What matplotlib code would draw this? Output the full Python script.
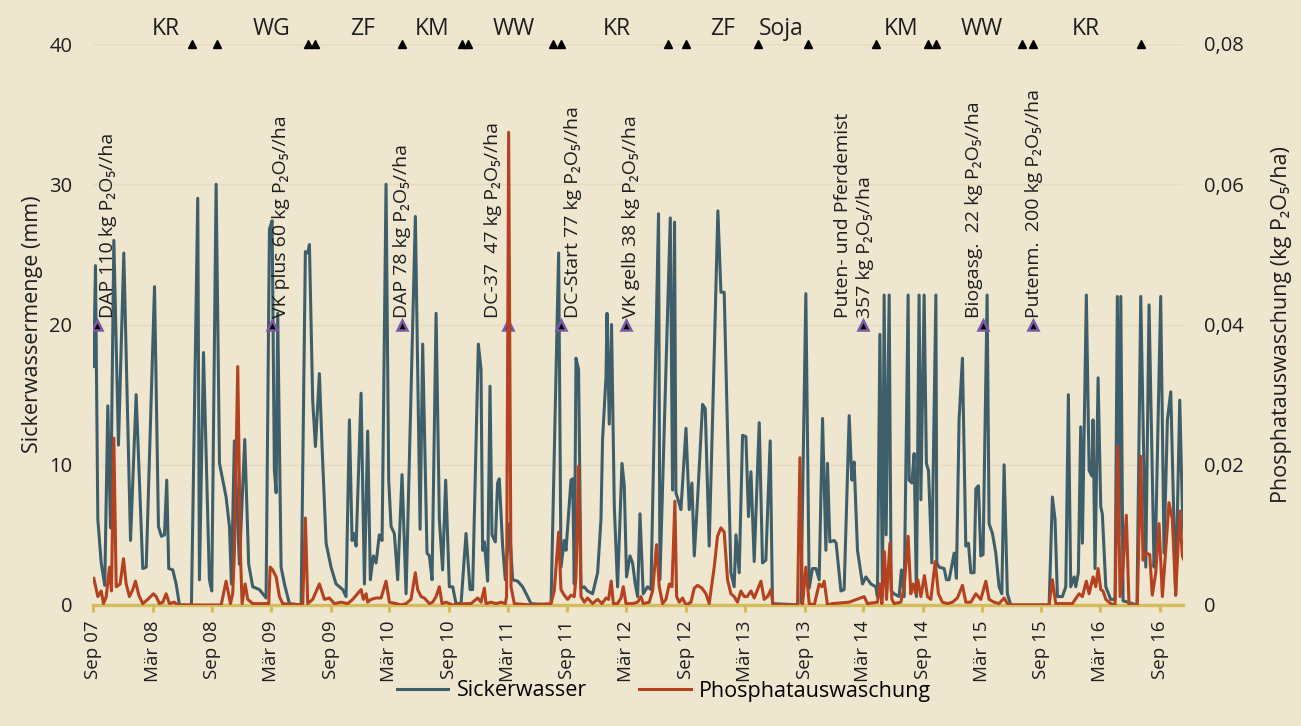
import numpy as np
import pandas as pd
import matplotlib
matplotlib.use("Agg")
import matplotlib.pyplot as plt
import matplotlib.transforms as mtrans
from matplotlib.lines import Line2D
from matplotlib.ticker import FuncFormatter

plt.rcParams['font.family'] = ['Open Sans', 'DejaVu Sans']

START = pd.Timestamp('2007-09-01')

# --- Sickerwasser (mm); time in months since Sep 2007 ---
sw_months = [0.03, 0.20, 0.44, 0.78, 1.14, 1.45, 1.72, 2.06, 2.53, 3.07, 3.75, 4.32, 4.99, 5.34,
             6.18, 6.58, 6.88, 7.19, 7.42, 7.62, 8.03, 8.37, 8.71, 9.92, 10.56, 10.73, 11.14,
             11.74, 11.98, 12.42, 12.76, 13.43, 13.77, 13.97, 14.27, 14.78, 15.32, 15.72, 16.13,
             16.81, 17.48, 17.82, 18.09, 18.32, 18.50, 18.66, 19.00, 19.34, 19.84, 21.03, 21.46,
             21.72, 21.87, 22.20, 22.48, 22.88, 23.15, 23.56, 24.06, 24.57, 25.24, 25.58, 25.92,
             26.19, 26.35, 26.60, 27.10, 27.44, 27.77, 28.04, 28.35, 28.62, 28.95, 29.23, 29.63,
             29.90, 30.14, 30.47, 30.81, 31.25, 31.66, 32.60, 33.08, 33.34, 33.78, 34.02, 34.29,
             34.70, 35.03, 35.36, 35.67, 36.04, 36.38, 36.72, 37.23, 37.73, 38.14, 38.40, 38.98,
             39.25, 39.41, 39.59, 39.92, 40.16, 40.36, 40.70, 40.93, 41.10, 41.44, 41.71, 42.12,
             42.45, 42.96, 43.46, 43.97, 44.31, 46.34, 47.11, 47.35, 47.68, 47.86, 48.36, 48.53,
             48.70, 48.87, 49.13, 49.38, 49.71, 50.04, 50.55, 51.06, 51.40, 51.56, 51.91, 52.01,
             52.24, 52.47, 52.75, 53.08, 53.53, 53.76, 53.99, 54.34, 54.60, 54.87, 55.11, 55.35,
             55.68, 56.12, 56.46, 57.23, 57.37, 58.42, 58.65, 58.85, 58.99, 59.26, 59.50, 60.01,
             60.34, 60.61, 60.85, 61.18, 61.69, 61.96, 62.36, 62.70, 63.24, 63.55, 63.88, 64.56,
             64.89, 65.07, 65.40, 65.74, 66.08, 66.34, 66.59, 66.92, 67.43, 67.76, 68.10, 68.54,
             68.77, 71.65, 72.15, 72.49, 72.82, 73.17, 73.50, 73.84, 74.18, 74.34, 74.58, 75.02,
             75.22, 75.70, 76.03, 76.54, 76.81, 77.04, 77.38, 77.89, 78.23, 78.74, 79.24, 79.40,
             79.65, 79.91, 80.08, 80.28, 80.59, 80.79, 81.09, 81.60, 81.83, 82.11, 82.51, 82.61,
             82.89, 83.12, 83.35, 83.62, 83.80, 84.13, 84.36, 84.57, 84.91, 85.32, 85.42, 85.65,
             86.16, 86.39, 86.66, 87.17, 87.40, 87.67, 88.01, 88.35, 88.62, 88.86, 89.19, 89.37,
             89.63, 89.87, 90.10, 90.51, 90.71, 91.05, 91.39, 91.72, 92.00, 92.23, 92.56, 92.91,
             96.79, 97.12, 97.39, 97.63, 98.13, 98.48, 98.74, 98.98, 99.32, 99.49, 99.75, 99.99,
             100.16, 100.56, 100.84, 101.11, 101.24, 101.44, 101.75, 102.02, 102.18, 102.53,
             103.03, 103.47, 103.70, 103.87, 104.05, 104.28, 105.69, 106.07, 106.58, 106.91,
             107.42, 107.59, 108.09, 108.43, 108.77, 109.11, 109.61, 110.02, 110.28, 110.45]
sw_values = [17.0, 24.2, 6.1, 3.0, 1.4, 14.2, 5.5, 26.0, 11.4, 25.1, 4.6, 15.0, 2.6, 2.7,
             22.7, 5.6, 4.9, 5.0, 8.9, 2.6, 2.5, 1.5, 0.0, 0.0, 29.0, 1.8, 18.0,
             1.8, 1.0, 30.0, 10.1, 7.7, 5.6, 1.5, 11.7, 2.9, 11.8, 2.9, 1.3,
             1.1, 0.5, 26.8, 27.4, 9.6, 8.0, 20.8, 2.7, 1.5, 0.1, 0.0, 25.2,
             25.1, 25.7, 14.6, 11.3, 16.5, 11.3, 4.4, 2.7, 1.5, 1.1, 0.6, 13.2,
             4.6, 5.1, 4.2, 15.1, 1.5, 12.4, 1.8, 3.5, 3.0, 5.0, 4.6, 30.0,
             8.9, 5.6, 5.1, 1.8, 9.3, 0.8, 27.7, 5.4, 18.6, 3.7, 3.5, 1.8,
             20.8, 6.1, 2.5, 8.9, 1.3, 1.3, 0.1, 0.1, 5.1, 1.1, 1.1, 18.6,
             16.8, 3.9, 4.5, 1.7, 15.6, 5.0, 4.5, 8.7, 9.0, 4.2, 1.8, 5.8,
             1.8, 1.7, 1.3, 0.6, 0.1, 0.0, 25.1, 2.7, 4.6, 3.9, 8.9, 9.0,
             1.5, 17.6, 16.8, 1.2, 1.3, 1.0, 0.8, 2.3, 6.1, 11.8, 16.3, 20.8,
             12.9, 20.0, 7.0, 1.3, 10.1, 8.5, 2.0, 3.5, 3.0, 1.5, 0.6, 6.5,
             0.8, 1.3, 1.1, 27.9, 1.8, 27.6, 8.2, 27.3, 8.0, 7.4, 6.8, 12.6,
             6.8, 8.7, 3.5, 7.5, 14.3, 14.0, 4.2, 13.2, 28.1, 22.3, 22.3, 2.3,
             1.3, 5.0, 2.3, 12.1, 12.0, 6.3, 9.5, 3.1, 13.0, 3.0, 3.2, 11.7,
             0.1, 0.0, 22.2, 1.2, 2.6, 2.6, 1.8, 13.3, 3.9, 10.1, 4.5, 4.6,
             4.4, 1.0, 1.1, 13.5, 8.9, 10.2, 3.9, 1.5, 2.0, 1.5, 1.3, 0.6,
             19.3, 0.6, 22.1, 5.0, 22.1, 1.0, 0.8, 0.6, 2.5, 0.6, 22.1, 8.9,
             8.7, 10.8, 0.6, 22.1, 7.5, 22.1, 10.1, 9.6, 3.0, 22.1, 3.0, 2.7,
             2.6, 1.8, 1.8, 3.7, 1.9, 13.2, 17.6, 4.2, 4.4, 2.3, 2.3, 8.3,
             8.5, 3.5, 3.6, 22.1, 5.8, 5.1, 3.7, 1.3, 0.8, 10.0, 0.8, 0.0,
             0.0, 7.7, 6.1, 0.6, 0.6, 1.3, 15.0, 1.3, 2.0, 1.3, 2.3, 12.7,
             4.4, 22.1, 9.6, 9.2, 13.2, 2.6, 16.2, 7.0, 6.5, 1.3,
             0.4, 0.4, 22.0, 5.0, 22.0, 0.3, 0.0, 22.0, 2.7, 21.4,
             2.7, 5.1, 22.0, 3.7, 13.2, 15.2, 0.7, 14.6, 7.0, 5.1]

# --- Phosphatauswaschung (kg P2O5/ha); time in months since Sep 2007 ---
p_months = [0.03, 0.44, 0.78, 1.01, 1.29, 1.62, 1.82, 2.06, 2.30, 2.70, 3.04, 3.31, 3.64, 3.98,
            4.25, 4.59, 4.99, 5.50, 6.07, 6.35, 6.68, 7.02, 7.36, 7.69, 8.20, 8.53, 12.93, 13.43,
            13.87, 14.10, 14.27, 14.61, 14.88, 15.05, 15.36, 15.62, 16.13, 17.75, 17.89, 18.15,
            18.50, 18.83, 19.16, 21.19, 21.46, 21.70, 22.20, 22.88, 23.39, 23.89, 24.40, 25.08,
            25.75, 26.25, 27.10, 27.33, 27.61, 27.77, 28.11, 28.62, 29.13, 29.63, 29.97, 30.65,
            31.15, 31.66, 32.16, 32.60, 32.83, 33.18, 33.51, 34.02, 34.35, 34.70, 35.03, 35.30,
            35.71, 36.38, 37.73, 38.24, 38.91, 39.25, 39.59, 39.76, 40.26, 40.77, 41.28, 41.71,
            41.84, 42.05, 42.29, 42.62, 44.31, 46.34, 46.67, 47.11, 47.35, 47.68, 48.02, 48.36,
            48.70, 48.87, 49.13, 49.38, 49.71, 50.04, 50.55, 51.06, 51.50, 51.91, 52.17, 52.44,
            52.65, 53.08, 53.43, 53.66, 53.93, 54.60, 55.11, 55.45, 55.68, 56.29, 56.63, 57.03,
            57.30, 57.64, 57.98, 58.32, 58.59, 58.89, 59.06, 59.33, 59.66, 60.01, 60.51, 60.85,
            61.18, 61.63, 62.03, 62.36, 62.87, 63.20, 63.55, 63.88, 64.22, 64.56, 64.89, 65.23,
            65.57, 65.91, 66.21, 66.59, 66.92, 67.60, 67.93, 68.27, 68.61, 68.84, 71.31, 71.55,
            71.81, 72.15, 72.49, 73.00, 73.50, 73.78, 74.01, 74.34, 74.85, 76.54, 78.06, 78.39,
            79.40, 79.65, 79.85, 80.11, 80.32, 80.66, 80.86, 81.09, 81.77, 82.11, 82.51, 82.78,
            83.02, 83.29, 83.49, 83.80, 84.16, 84.47, 84.81, 85.25, 85.58, 85.98, 86.49, 87.00,
            87.50, 88.01, 88.35, 88.86, 89.37, 89.87, 90.38, 90.71, 91.22, 91.72, 92.23, 92.56,
            93.07, 96.79, 97.12, 97.46, 99.15, 99.82, 100.16, 100.56, 100.84, 101.24, 101.51,
            101.75, 102.02, 102.25, 102.53, 103.03, 103.47, 103.74, 103.98, 104.28, 104.61,
            104.88, 105.72, 106.07, 106.30, 106.58, 106.98, 107.24, 107.59, 107.92, 108.26,
            108.60, 108.93, 109.27, 109.61, 110.02, 110.28, 110.45]
p_values = [0.0038, 0.0012, 0.0020, 0.0002, 0.0012, 0.0054, 0.0020, 0.0238, 0.0026, 0.0030,
            0.0066, 0.0030, 0.0012, 0.0022, 0.0034, 0.0014, 0.0002, 0.0008, 0.0016, 0.0012,
            0.0002, 0.0004, 0.0016, 0.0002, 0.0004, 0.0, 0.0, 0.0034,
            0.0002, 0.0016, 0.0074, 0.0340, 0.0074, 0.0002, 0.0030, 0.0008, 0.0002, 0.0002,
            0.0054, 0.0050, 0.0040, 0.0012, 0.0002, 0.0, 0.0124, 0.0002, 0.0008, 0.0030,
            0.0008, 0.0010, 0.0002, 0.0004, 0.0002, 0.0008, 0.0022, 0.0008, 0.0016, 0.0004,
            0.0008, 0.0010, 0.0010, 0.0034, 0.0004, 0.0002, 0.0, 0.0002, 0.0008, 0.0046,
            0.0022, 0.0012, 0.0010, 0.0002, 0.0004, 0.0012, 0.0026, 0.0002, 0.0004, 0.0,
            0.0002, 0.0002, 0.0010, 0.0004, 0.0024, 0.0002, 0.0004, 0.0002, 0.0004, 0.0002,
            0.0012, 0.0674, 0.0026, 0.0002, 0.0, 0.0002, 0.0020, 0.0104, 0.0022, 0.0014,
            0.0008, 0.0014, 0.0012, 0.0040, 0.0198, 0.0012, 0.0004, 0.0010, 0.0002, 0.0008,
            0.0002, 0.0010, 0.0008, 0.0034, 0.0002, 0.0002, 0.0010, 0.0026, 0.0002, 0.0002,
            0.0004, 0.0012, 0.0002, 0.0004, 0.0020, 0.0086, 0.0026, 0.0002, 0.0008, 0.0030,
            0.0026, 0.0148, 0.0012, 0.0004, 0.0010, 0.0, 0.0004, 0.0024, 0.0028, 0.0024,
            0.0016, 0.0002, 0.0054, 0.0098, 0.0110, 0.0104, 0.0036, 0.0016, 0.0012, 0.0004,
            0.0020, 0.0012, 0.0012, 0.0020, 0.0010, 0.0034, 0.0008, 0.0012, 0.0022, 0.0,
            0.0, 0.0210, 0.0, 0.0054, 0.0002, 0.0, 0.0030, 0.0026, 0.0034, 0.0, 0.0002,
            0.0004, 0.0012, 0.0002, 0.0004, 0.0030, 0.0002, 0.0076, 0.0008, 0.0088, 0.0008,
            0.0002, 0.0004, 0.0026, 0.0098, 0.0016, 0.0030, 0.0016, 0.0036, 0.0012, 0.0042,
            0.0012, 0.0008, 0.0062, 0.0016, 0.0004, 0.0002, 0.0004, 0.0010, 0.0028, 0.0004,
            0.0004, 0.0016, 0.0008, 0.0034, 0.0008, 0.0004, 0.0002, 0.0010, 0.0002, 0.0,
            0.0, 0.0036, 0.0002, 0.0002, 0.0016, 0.0012, 0.0034, 0.0016, 0.0040, 0.0026,
            0.0052, 0.0022, 0.0020, 0.0008, 0.0002, 0.0, 0.0226, 0.0012, 0.0054, 0.0128,
            0.0, 0.0, 0.0212, 0.0064, 0.0074, 0.0072, 0.0014, 0.0046, 0.0116, 0.0012,
            0.0078, 0.0146, 0.0122, 0.0014, 0.0134, 0.0070, 0.0064]

# --- crop rotation (top row) ---
crop_names = ['KR', 'WG', 'ZF', 'KM', 'WW', 'KR', 'ZF', 'Soja', 'KM', 'WW', 'KR']
crop_label_months = [7.29, 18.02, 27.23, 34.32, 42.52, 53.05, 63.68, 69.66, 81.80, 90.01, 100.53]
crop_event_months = [10.02, 12.55, 21.77, 22.48, 31.28, 37.36, 37.97, 46.57, 47.38, 58.21,
                     60.04, 67.33, 72.39, 79.27, 84.54, 85.35, 94.06, 95.17, 106.10]

# --- fertilisation events ---
fert_months = [0.40, 18.12, 31.28, 42.02, 47.38, 53.96, 77.96, 90.10, 95.17]
fert_labels = ['DAP 110 kg P\u2082O\u2085//ha',
               'VK plus 60 kg P\u2082O\u2085//ha',
               'DAP 78 kg P\u2082O\u2085//ha',
               'DC-37  47 kg P\u2082O\u2085//ha',
               'DC-Start 77 kg P\u2082O\u2085//ha',
               'VK gelb 38 kg P\u2082O\u2085//ha',
               'Puten- und Pferdemist\n357 kg P\u2082O\u2085//ha',
               'Biogasg.  22 kg P\u2082O\u2085//ha',
               'Putenm.  200 kg P\u2082O\u2085//ha']
fert_ha = ['left', 'left', 'center', 'right', 'left', 'left', 'center', 'right', 'center']
fert_dx = [2, 0, 0, -6, 3, -4, -9, 0, 1]   # small pixel nudges

xtick_dates = pd.date_range('2007-09-01', '2016-09-01', freq='6MS')


def to_dates(months):
    return START + pd.to_timedelta(np.asarray(months) * 30.4375, unit='D')


BG = '#efe6d0'
BLUE = '#3e5f69'
RED = '#b4411f'
AXIS = '#d5bd5e'
GRID = '#e5dbbf'
TXT = '#1e1e1e'

fig = plt.figure(figsize=(13.01, 7.26), dpi=100, facecolor=BG)
ax = fig.add_axes([93 / 1301, 1 - 605 / 726, (1183 - 93) / 1301, (605 - 44) / 726])
ax.set_facecolor(BG)
ax2 = ax.twinx()

ax.plot(to_dates(sw_months), sw_values, color=BLUE, lw=2.2, solid_joinstyle='round', zorder=3)
ax2.plot(to_dates(p_months), p_values, color=RED, lw=2.2, solid_joinstyle='round', zorder=3)

ax.set_ylim(0, 40)
ax2.set_ylim(0, 0.08)
ax.set_xlim(to_dates([-0.05])[0], to_dates([110.35])[0])

for yv in [10, 20, 30, 40]:
    ax.axhline(yv, color=GRID, lw=1.0, zorder=0)

for sp in ['top', 'left', 'right']:
    ax.spines[sp].set_visible(False)
    ax2.spines[sp].set_visible(False)
ax2.spines['bottom'].set_visible(False)
ax.spines['bottom'].set_color(AXIS)
ax.spines['bottom'].set_linewidth(2.4)
ax.spines['bottom'].set_zorder(4)

ax.set_yticks([0, 10, 20, 30, 40])
ax.tick_params(axis='y', length=0, pad=15, labelsize=14.5, colors=TXT)
ax2.set_yticks([0, 0.02, 0.04, 0.06, 0.08])
ax2.yaxis.set_major_formatter(FuncFormatter(lambda v, p: '0' if abs(v) < 1e-9 else f'{v:.2f}'.replace('.', ',')))
ax2.tick_params(axis='y', length=0, pad=15, labelsize=14.5, colors=TXT)

month_names = {3: 'Mär', 9: 'Sep'}
ax.set_xticks(xtick_dates)
ax.set_xticklabels([f"{month_names[d.month]} {d.year % 100:02d}" for d in xtick_dates],
                   rotation=90, fontsize=13.5, color=TXT)
ax.tick_params(axis='x', length=5, width=2.2, color=AXIS, pad=6)

ax.set_ylabel('Sickerwassermenge (mm)', fontsize=15.5, color=TXT, labelpad=4)
ax2.set_ylabel('Phosphatauswaschung (kg P\u2082O\u2085/ha)', fontsize=15.5, color=TXT,
               rotation=90, labelpad=20)

# crop rotation markers and labels
ax.plot(to_dates(crop_event_months), [40] * len(crop_event_months), linestyle='none',
        marker='^', ms=5.5, color='black', clip_on=False, zorder=6)
for name, m in zip(crop_names, crop_label_months):
    ax.text(to_dates([m])[0], 41.1, name, ha='center', va='center', fontsize=16.5,
            color=TXT, clip_on=False)

# fertilisation markers and labels
ax.plot(to_dates(fert_months), [20] * len(fert_months), linestyle='none', marker='^', ms=7,
        markerfacecolor='black', markeredgecolor='#7a5aa6', mew=1.8, zorder=7)
for m, lab, ha, dx in zip(fert_months, fert_labels, fert_ha, fert_dx):
    tr = ax.transData + mtrans.ScaledTranslation(dx / 100, 0, fig.dpi_scale_trans)
    ax.text(to_dates([m])[0], 20.45, lab, rotation=90, ha=ha, va='bottom', fontsize=14,
            color=TXT, transform=tr, multialignment='left', linespacing=1.3, zorder=8)

# legend
handles = [Line2D([], [], color=BLUE, lw=2.2), Line2D([], [], color=RED, lw=2.2)]
fig.legend(handles, ['Sickerwasser', 'Phosphatauswaschung'], loc='center',
           bbox_to_anchor=(664 / 1301, 1 - 691 / 726), ncol=2, frameon=False,
           fontsize=15.5, handlelength=2.4, columnspacing=2.4, handletextpad=0.4)

fig.savefig('out.png', dpi=100, facecolor=BG)
